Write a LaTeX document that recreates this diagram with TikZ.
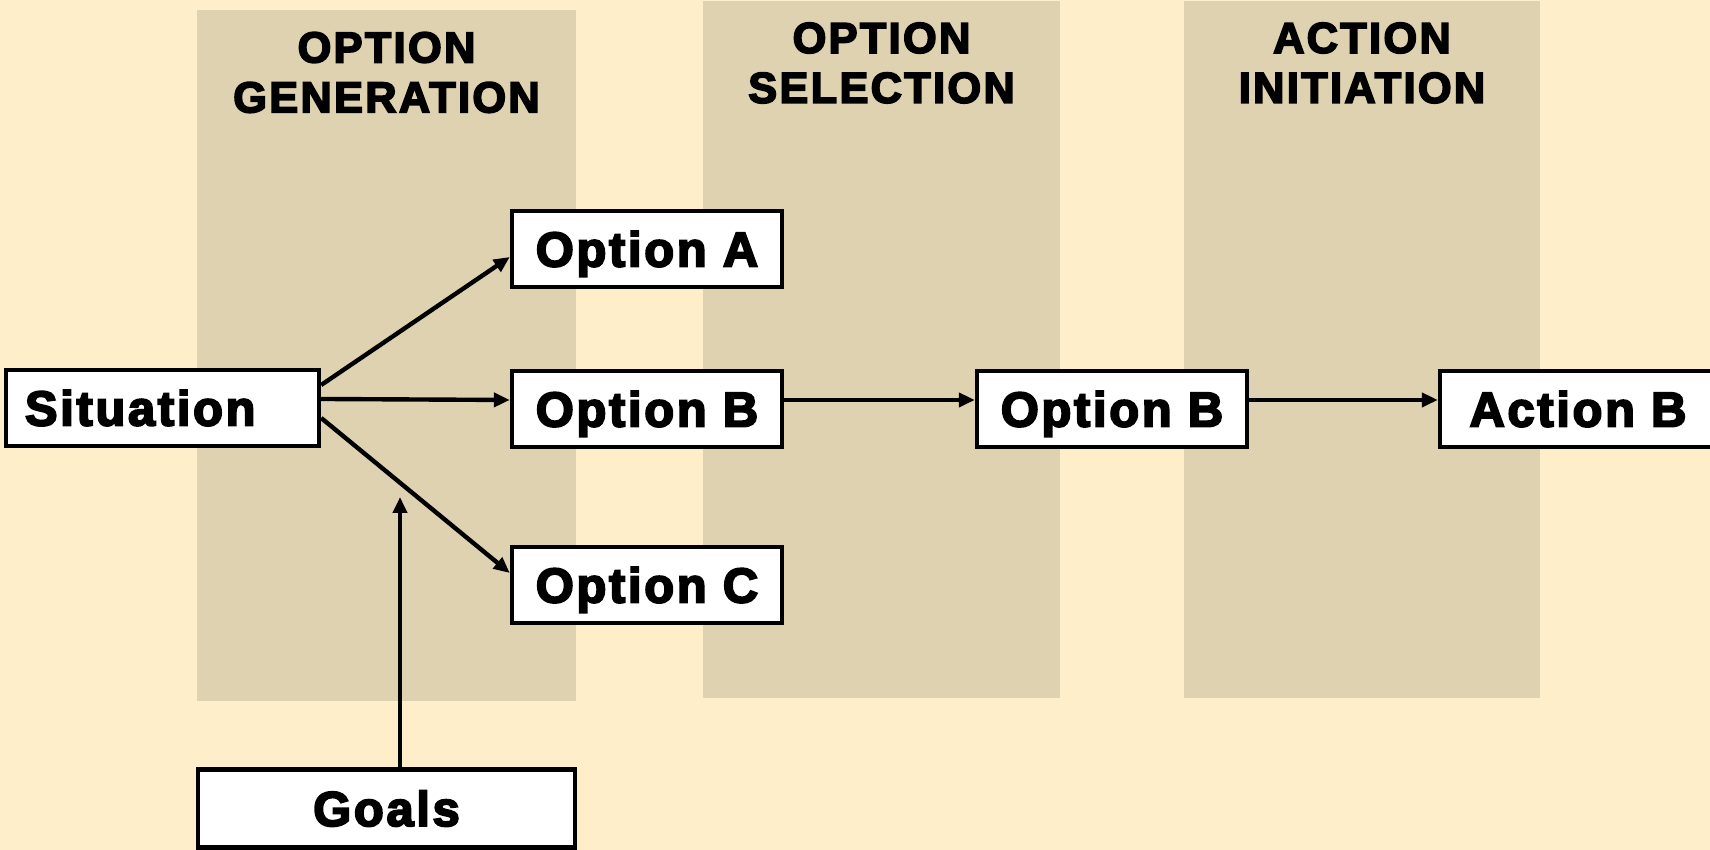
\documentclass[tikz,border=0pt]{standalone}
\usepackage{fontspec}
\newfontfamily\heavyfont{Liberation Sans}[UprightFont=* Bold,FakeBold=4,LetterSpace=5.5]
\usetikzlibrary{arrows.meta}
\definecolor{paper}{RGB}{254,238,201}
\definecolor{bandfill}{RGB}{223,210,177}

\begin{document}
\begin{tikzpicture}[x=1cm,y=1cm,line join=miter,
  band/.style={fill=bandfill},
  stage/.style={inner sep=0pt,align=center,font=\heavyfont\fontsize{12.3}{14.2}\selectfont},
  optbox/.style={draw,fill=white,line width=1.25pt,inner sep=0pt,text height=9.95pt,text depth=0pt,
    minimum width=2.7cm,minimum height=0.76cm,font=\heavyfont\fontsize{13.9}{16}\selectfont},
  flow/.style={line width=1.25pt,-{Triangle[length=1.6mm,width=1.4mm]}}]
\useasboundingbox (0,0) rectangle (17.1,8.5);
\fill[paper] (0,0) rectangle (17.1,8.5);
\fill[band] (1.97,1.49) rectangle (5.76,8.40);
\fill[band] (7.03,1.52) rectangle (10.60,8.49);
\fill[band] (11.84,1.52) rectangle (15.40,8.49);
\node[stage] (gen) at (3.865,7.775) {OPTION\\GENERATION};
\node[stage] (sel) at (8.815,7.87) {OPTION\\SELECTION};
\node[stage] (ini) at (13.62,7.87) {ACTION\\INITIATION};
\node[optbox,minimum width=3.13cm,text width=2.75cm,inner xsep=1.9mm,align=left] (sit) at (1.625,4.42) {Situation};
\node[optbox] (optA) at (6.47,6.01) {Option A};
\node[optbox] (optB) at (6.47,4.41) {Option B};
\node[optbox] (optC) at (6.47,2.65) {Option C};
\node[optbox] (pick) at (11.12,4.41) {Option B};
\node[optbox,minimum width=2.76cm] (act) at (15.78,4.41) {Action B};
\node[optbox,minimum width=3.77cm,minimum height=0.78cm] (goals) at (3.865,0.415) {Goals};
\coordinate (goaltip) at (4.00,3.53);
\draw[flow] ([yshift=2.3mm]sit.east) -- ([yshift=-0.8mm]optA.west);
\draw[flow] ([yshift=0.9mm]sit.east) -- ([yshift=0.9mm]optB.west);
\draw[flow] ([yshift=-1mm]sit.east) -- ([yshift=1.2mm]optC.west);
\draw[flow] ([yshift=0.9mm]optB.east) -- ([yshift=0.9mm]pick.west);
\draw[flow] ([yshift=0.9mm]pick.east) -- ([yshift=0.9mm]act.west);
\draw[flow] (goals.north -| goaltip) -- (goaltip);
\end{tikzpicture}
\end{document}
